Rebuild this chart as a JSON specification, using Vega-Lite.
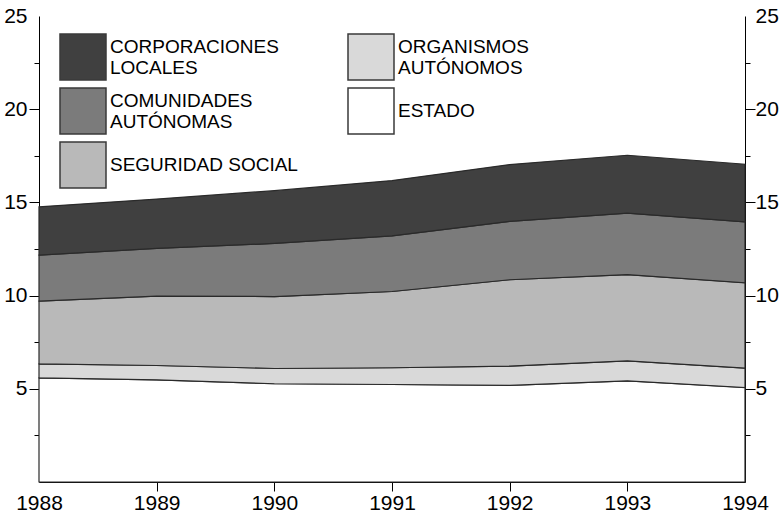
{
  "$schema": "https://vega.github.io/schema/vega-lite/v6.json",
  "width": 706,
  "height": 466,
  "autosize": {"type": "none"},
  "padding": {"left": 39, "top": 16, "right": 36, "bottom": 31},
  "background": "white",
  "config": {
    "view": {"stroke": null},
    "font": "Liberation Sans",
    "axis": {
      "grid": false,
      "domainColor": "#000000",
      "domainWidth": 1,
      "tickColor": "#000000",
      "tickWidth": 1,
      "tickOpacity": 1,
      "labelFont": "Liberation Sans",
      "labelFontSize": 21,
      "labelColor": "#000000",
      "title": null,
      "zindex": 1,
      "labelFlush": false,
      "labelOverlap": false
    },
    "legend": {
      "labelFont": "Liberation Sans",
      "labelFontSize": 19,
      "labelColor": "#000000",
      "labelLimit": 0
    }
  },
  "data": {
    "values": [
      {"anio": 1988, "sector": "ESTADO", "valor": 5.59},
      {"anio": 1988, "sector": "ORGANISMOS AUTÓNOMOS", "valor": 0.75},
      {"anio": 1988, "sector": "SEGURIDAD SOCIAL", "valor": 3.36},
      {"anio": 1988, "sector": "COMUNIDADES AUTÓNOMAS", "valor": 2.47},
      {"anio": 1988, "sector": "CORPORACIONES LOCALES", "valor": 2.59},
      {"anio": 1989, "sector": "ESTADO", "valor": 5.48},
      {"anio": 1989, "sector": "ORGANISMOS AUTÓNOMOS", "valor": 0.77},
      {"anio": 1989, "sector": "SEGURIDAD SOCIAL", "valor": 3.72},
      {"anio": 1989, "sector": "COMUNIDADES AUTÓNOMAS", "valor": 2.56},
      {"anio": 1989, "sector": "CORPORACIONES LOCALES", "valor": 2.65},
      {"anio": 1990, "sector": "ESTADO", "valor": 5.27},
      {"anio": 1990, "sector": "ORGANISMOS AUTÓNOMOS", "valor": 0.82},
      {"anio": 1990, "sector": "SEGURIDAD SOCIAL", "valor": 3.86},
      {"anio": 1990, "sector": "COMUNIDADES AUTÓNOMAS", "valor": 2.85},
      {"anio": 1990, "sector": "CORPORACIONES LOCALES", "valor": 2.83},
      {"anio": 1991, "sector": "ESTADO", "valor": 5.23},
      {"anio": 1991, "sector": "ORGANISMOS AUTÓNOMOS", "valor": 0.90},
      {"anio": 1991, "sector": "SEGURIDAD SOCIAL", "valor": 4.09},
      {"anio": 1991, "sector": "COMUNIDADES AUTÓNOMAS", "valor": 2.98},
      {"anio": 1991, "sector": "CORPORACIONES LOCALES", "valor": 2.97},
      {"anio": 1992, "sector": "ESTADO", "valor": 5.18},
      {"anio": 1992, "sector": "ORGANISMOS AUTÓNOMOS", "valor": 1.04},
      {"anio": 1992, "sector": "SEGURIDAD SOCIAL", "valor": 4.63},
      {"anio": 1992, "sector": "COMUNIDADES AUTÓNOMAS", "valor": 3.13},
      {"anio": 1992, "sector": "CORPORACIONES LOCALES", "valor": 3.05},
      {"anio": 1993, "sector": "ESTADO", "valor": 5.43},
      {"anio": 1993, "sector": "ORGANISMOS AUTÓNOMOS", "valor": 1.07},
      {"anio": 1993, "sector": "SEGURIDAD SOCIAL", "valor": 4.63},
      {"anio": 1993, "sector": "COMUNIDADES AUTÓNOMAS", "valor": 3.29},
      {"anio": 1993, "sector": "CORPORACIONES LOCALES", "valor": 3.11},
      {"anio": 1994, "sector": "ESTADO", "valor": 5.07},
      {"anio": 1994, "sector": "ORGANISMOS AUTÓNOMOS", "valor": 1.04},
      {"anio": 1994, "sector": "SEGURIDAD SOCIAL", "valor": 4.58},
      {"anio": 1994, "sector": "COMUNIDADES AUTÓNOMAS", "valor": 3.27},
      {"anio": 1994, "sector": "CORPORACIONES LOCALES", "valor": 3.09}
    ]
  },
  "transform": [
    {"calculate": "indexof(['ESTADO','ORGANISMOS AUTÓNOMOS','SEGURIDAD SOCIAL','COMUNIDADES AUTÓNOMAS','CORPORACIONES LOCALES'], datum.sector)", "as": "capa"}
  ],
  "layer": [
    {
      "mark": {"type": "area", "stroke": "#2a2a2a", "strokeWidth": 1.2, "opacity": 1, "interpolate": "linear"},
      "encoding": {
        "x": {
          "field": "anio",
          "type": "quantitative",
          "scale": {"domain": [1988, 1994], "nice": false, "zero": false},
          "axis": {
            "orient": "bottom",
            "values": [1988, 1989, 1990, 1991, 1992, 1993, 1994],
            "format": "d",
            "ticks": false,
            "tickSize": 0,
            "labelPadding": 10
          }
        },
        "y": {
          "field": "valor",
          "type": "quantitative",
          "stack": "zero",
          "scale": {"domain": [0, 25], "nice": false},
          "axis": {
            "orient": "left",
            "values": [5, 10, 15, 20, 25],
            "ticks": false,
            "tickSize": 0,
            "labelPadding": 12
          }
        },
        "color": {
          "field": "sector",
          "type": "nominal",
          "scale": {
            "domain": ["CORPORACIONES LOCALES", "COMUNIDADES AUTÓNOMAS", "SEGURIDAD SOCIAL", "ORGANISMOS AUTÓNOMOS", "ESTADO"],
            "range": ["#404040", "#7b7b7b", "#b9b9b9", "#d9d9d9", "#ffffff"]
          },
          "legend": {
            "orient": "none",
            "legendX": 20,
            "legendY": 17,
            "title": null,
            "columns": 2,
            "direction": "vertical",
            "padding": 0,
            "symbolType": "square",
            "symbolSize": 2116,
            "symbolStrokeColor": "#3a3a3a",
            "symbolStrokeWidth": 1.5,
            "symbolOpacity": 1,
            "labelOffset": 3,
            "rowPadding": 2,
            "columnPadding": 47,
            "labelExpr": "datum.label == 'SEGURIDAD SOCIAL' ? datum.label : split(datum.label, ' ')",
            "encode": {
              "labels": {"update": {
                "lineHeight": {"value": 21},
                "dy": {"signal": "datum.label == 'SEGURIDAD SOCIAL' || datum.label == 'ESTADO' ? 0 : -10.5"}
              }},
              "symbols": {"update": {"stroke": {"value": "#3a3a3a"}, "strokeWidth": {"value": 1.5}, "opacity": {"value": 1}}}
            }
          }
        },
        "order": {"field": "capa", "type": "quantitative", "sort": "ascending"}
      }
    },
    {
      "mark": {"type": "point", "opacity": 0},
      "encoding": {
        "x": {
          "field": "anio",
          "type": "quantitative",
          "scale": {"domain": [1988, 1994], "nice": false, "zero": false},
          "axis": {
            "orient": "bottom",
            "values": [1989, 1990, 1991, 1992, 1993],
            "domain": false,
            "labels": true,
            "labelExpr": "''",
            "ticks": true,
            "tickSize": 9,
            "encode": {"ticks": {"y2": {"value": -9}}}
          }
        },
        "y": {
          "field": "valor",
          "type": "quantitative",
          "scale": {"domain": [0, 25], "nice": false},
          "axis": {
            "orient": "left",
            "values": [5, 10, 15, 20],
            "domain": false,
            "labels": true,
            "labelExpr": "''",
            "ticks": true,
            "tickSize": 10,
            "encode": {"ticks": {"x2": {"value": 10}}}
          }
        }
      }
    },
    {
      "mark": {"type": "point", "opacity": 0},
      "encoding": {
        "y": {
          "field": "valor",
          "type": "quantitative",
          "scale": {"domain": [0, 25], "nice": false},
          "axis": {
            "orient": "left",
            "values": [2.5, 7.5, 12.5, 17.5, 22.5],
            "domain": false,
            "labels": true,
            "labelExpr": "''",
            "ticks": true,
            "tickSize": 5,
            "encode": {"ticks": {"x2": {"value": 5}}}
          }
        }
      }
    },
    {
      "mark": {"type": "point", "opacity": 0},
      "encoding": {
        "y": {
          "field": "valor",
          "type": "quantitative",
          "scale": {"domain": [0, 25], "nice": false},
          "axis": {
            "orient": "right",
            "values": [5, 10, 15, 20, 25],
            "ticks": false,
            "tickSize": 0,
            "labelPadding": 10
          }
        }
      }
    },
    {
      "mark": {"type": "point", "opacity": 0},
      "encoding": {
        "y": {
          "field": "valor",
          "type": "quantitative",
          "scale": {"domain": [0, 25], "nice": false},
          "axis": {
            "orient": "right",
            "values": [5, 10, 15, 20],
            "domain": false,
            "labels": true,
            "labelExpr": "''",
            "ticks": true,
            "tickSize": 10,
            "encode": {"ticks": {"x2": {"value": -10}}}
          }
        }
      }
    },
    {
      "mark": {"type": "point", "opacity": 0},
      "encoding": {
        "y": {
          "field": "valor",
          "type": "quantitative",
          "scale": {"domain": [0, 25], "nice": false},
          "axis": {
            "orient": "right",
            "values": [2.5, 7.5, 12.5, 17.5, 22.5],
            "domain": false,
            "labels": true,
            "labelExpr": "''",
            "ticks": true,
            "tickSize": 5,
            "encode": {"ticks": {"x2": {"value": -5}}}
          }
        }
      }
    }
  ],
  "resolve": {"axis": {"x": "independent", "y": "independent"}}
}
